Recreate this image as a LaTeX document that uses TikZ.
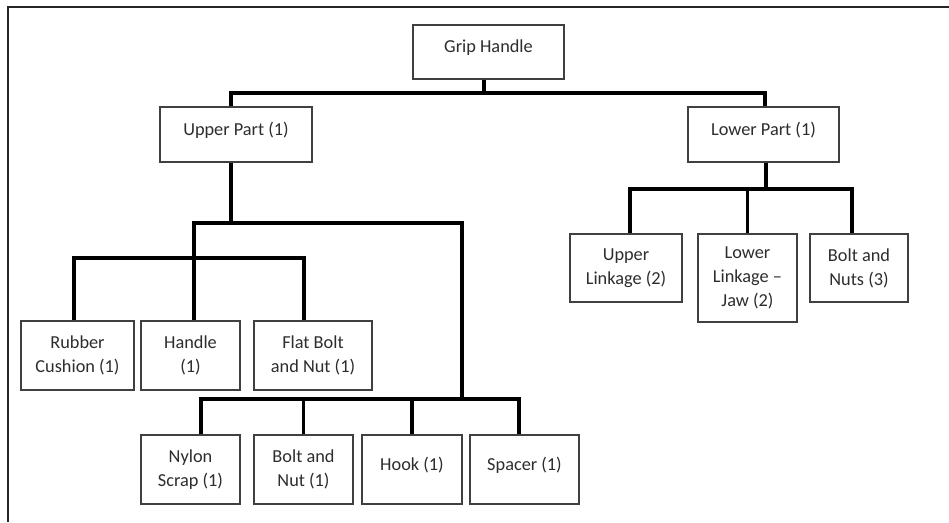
\documentclass[tikz,border=0pt]{standalone}
\usepackage{fontspec}
\setmainfont{Carlito}
\usepackage{tikz}
\usetikzlibrary{calc}
\definecolor{ghedge}{RGB}{64,64,64}
\definecolor{ghink}{RGB}{45,45,45}
\definecolor{ghbus}{RGB}{0,0,0}
\tikzset{
  partbox/.style={
    draw=ghedge, line width=1.3pt, fill=white, align=center,
    inner sep=0pt, text=ghink,
    font=\fontsize{18.3pt}{24pt}\selectfont
  },
  toprow/.style={partbox, minimum height=54pt},
  midrow/.style={partbox, minimum height=69pt},
  onerow/.style={midrow, text depth=12pt},
  link/.style={draw=ghbus, line width=3.5pt},
  edgeline/.style={draw=black!85, line width=2pt},
  every picture/.append style={line join=miter}
}

\begin{document}
\begin{tikzpicture}[x=1pt,y=-1pt]
  \useasboundingbox (0,0) rectangle (949,522);
  \draw[edgeline] (8,522) |- (949,7);
  % top levels
  \node[toprow, minimum width=151pt, text depth=12pt] (grip) at (488.5,52) {Grip Handle};
  \node[toprow, minimum width=152pt, minimum height=55pt, text depth=12pt] (up) at (236,134.5) {Upper Part (1)};
  \node[toprow, minimum width=151pt, minimum height=55pt, text depth=12pt] (low) at (763.5,134.5) {Lower Part (1)};
  % upper part, first set
  \node[midrow, minimum width=113pt] (rc) at (77.5,355.5) {Rubber\\Cushion (1)};
  \node[midrow, minimum width=99pt] (hd) at (190.5,355.5) {Handle\\(1)};
  \node[midrow, minimum width=118pt] (fb) at (313,355.5) {Flat Bolt\\and Nut (1)};
  % upper part, second set
  \node[midrow, minimum width=99pt] (ny) at (190.5,469.5) {Nylon\\Scrap (1)};
  \node[midrow, minimum width=99pt] (bn) at (303.5,469.5) {Bolt and\\Nut (1)};
  \node[onerow, minimum width=100pt] (hk) at (412,469.5) {Hook (1)};
  \node[onerow, minimum width=109pt] (sp) at (524.5,469.5) {Spacer (1)};
  % lower part
  \node[midrow, minimum width=112pt, minimum height=68pt] (ul) at (626,268) {Upper\\Linkage (2)};
  \node[midrow, minimum width=99pt, minimum height=88pt] (ll) at (747.5,278) {Lower\\Linkage --\\Jaw (2)};
  \node[midrow, minimum width=98pt, minimum height=68pt] (bs) at (859,268) {Bolt and\\Nuts (3)};
  % buses
  \coordinate (rootbus) at (484,93);
  \coordinate (upbus) at (231,223);
  \coordinate (setbus) at (194,258);
  \coordinate (fixbus) at (462,399);
  \coordinate (lowbus) at (766,189);
  \draw[link] (grip.south -| rootbus) -- (rootbus);
  \draw[link] ($(up.north)+(-5,0)$) |- (rootbus) -| ($(low.north)+(1.5,0)$);
  \draw[link] (up.south -| upbus) -- (upbus);
  \draw[link] ($(hd.north)+(3.5,0)$) |- (upbus) -| (fixbus);
  \draw[link] ($(rc.north)+(-3.5,0)$) |- (setbus) -| ($(fb.north)+(-9,0)$);
  \draw[link] ($(ny.north)+(10.5,0)$) |- (fixbus) -| ($(sp.north)+(-5.5,0)$);
  \draw[link] (bn.north) -- (bn.north |- fixbus);
  \draw[link] (hk.north) -- (hk.north |- fixbus);
  \draw[link] ($(low.south)+(2.5,0)$) -- (lowbus);
  \draw[link] ($(ul.north)+(4,0)$) |- (lowbus) -| ($(bs.north)+(-7,0)$);
  \draw[link] (ll.north) -- (ll.north |- lowbus);
\end{tikzpicture}
\end{document}
